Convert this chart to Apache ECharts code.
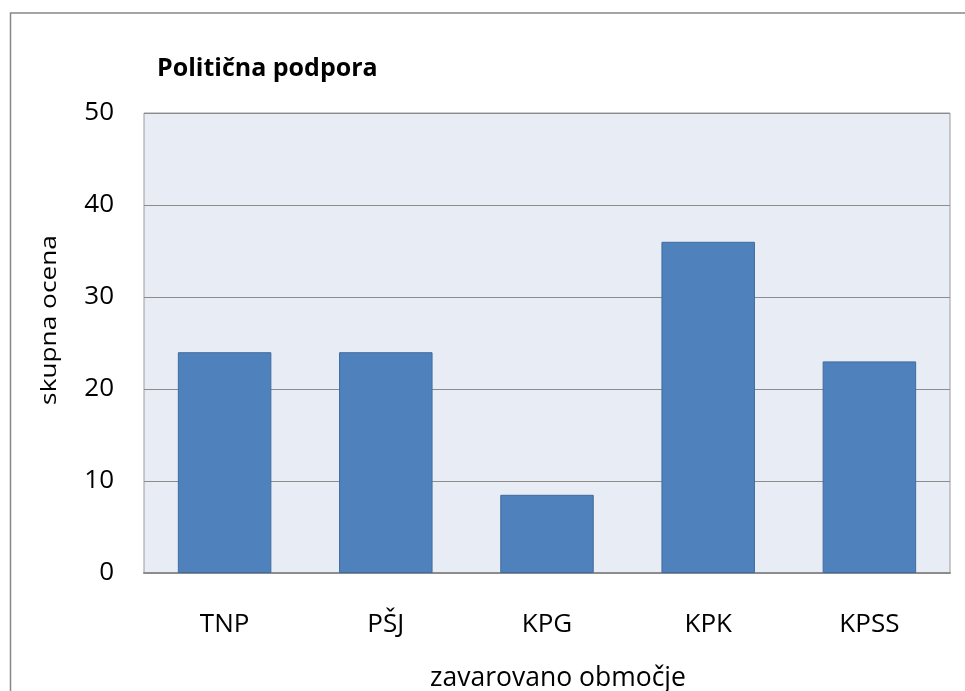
<!DOCTYPE html>
<html>
<head>
<meta charset="utf-8">
<script src="https://cdn.jsdelivr.net/npm/echarts@6/dist/echarts.min.js"></script>
<style>
  html, body { margin: 0; padding: 0; background: #ffffff; }
  #chart { width: 965px; height: 691px; }
</style>
</head>
<body>
<div id="chart"></div>
<script>
// Protected areas and their total political-support score
const categories = ['TNP', 'PŠJ', 'KPG', 'KPK', 'KPSS'];
const scores = [24, 24, 8.5, 36, 23];
const yTicks = { min: 0, max: 50, interval: 10 };

const FONT = '"Open Sans", "Noto Sans", sans-serif';

const chart = echarts.init(document.getElementById('chart'), null, { renderer: 'canvas' });

chart.setOption({
  animation: false,
  backgroundColor: '#ffffff',
  textStyle: { fontFamily: FONT },
  graphic: [
    // chart frame (runs off the right and bottom edges)
    {
      type: 'rect',
      shape: { x: 10.5, y: 13, width: 1000, height: 800 },
      style: { fill: 'none', stroke: '#878787', lineWidth: 1.5 },
      silent: true,
      z: -1
    },
    // value-axis title, drawn rotated and stretched along its length
    {
      type: 'text',
      x: 50,
      y: 320,
      rotation: Math.PI / 2,
      scaleX: 1.25,
      style: {
        text: 'skupna ocena',
        font: '21px "Open Sans", sans-serif',
        fill: '#000000',
        align: 'center',
        verticalAlign: 'middle'
      },
      silent: true
    },
    // category-axis title
    {
      type: 'text',
      x: 558,
      y: 678,
      style: {
        text: 'zavarovano območje',
        font: '26.5px "Open Sans", sans-serif',
        fill: '#000000',
        align: 'center',
        verticalAlign: 'middle'
      },
      silent: true
    }
  ],
  title: {
    text: 'Politična podpora',
    left: 157,
    top: 56,
    padding: 0,
    textStyle: { fontFamily: FONT, fontSize: 25, fontWeight: 'bold', color: '#000000' }
  },
  grid: {
    left: 144,
    top: 113,
    right: 15,
    bottom: 118,
    show: true,
    backgroundColor: '#E8ECF5',
    borderColor: '#9a9a9a',
    borderWidth: 1
  },
  xAxis: {
    type: 'category',
    data: categories,
    axisLine: { show: true, lineStyle: { color: '#8c8c8c', width: 2 } },
    axisTick: { show: false },
    axisLabel: { fontFamily: FONT, fontSize: 26, color: '#000000', margin: 39 },
    splitLine: { show: false }
  },
  yAxis: {
    type: 'value',
    min: yTicks.min,
    max: yTicks.max,
    interval: yTicks.interval,
    axisLine: { show: false },
    axisTick: { show: false },
    axisLabel: { fontFamily: FONT, fontSize: 26, color: '#000000', margin: 30 },
    splitLine: { show: true, lineStyle: { color: '#8c8c8c', width: 1 } }
  },
  series: [
    {
      type: 'bar',
      data: scores,
      barWidth: '58%',
      itemStyle: { color: '#4F81BD', borderColor: '#3F6C9F', borderWidth: 1 }
    }
  ]
});
</script>
</body>
</html>
